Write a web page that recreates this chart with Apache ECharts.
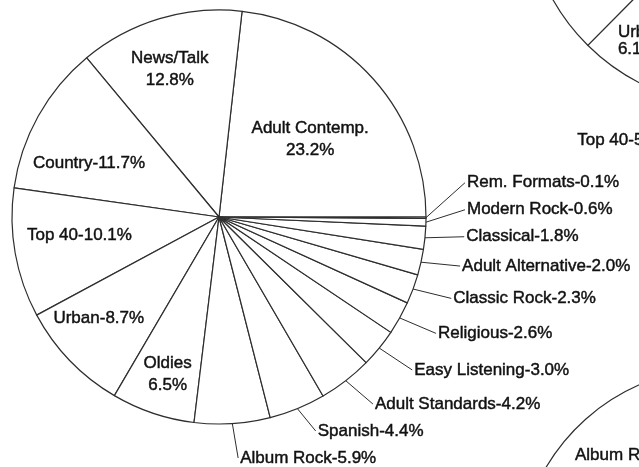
<!DOCTYPE html>
<html>
<head>
<meta charset="utf-8">
<script src="https://cdn.jsdelivr.net/npm/echarts@6/dist/echarts.min.js"></script>
<style>
  html, body { margin: 0; padding: 0; background: #ffffff; }
  #chart { width: 639px; height: 467px; }
</style>
</head>
<body>
<div id="chart"></div>
<script>
// Station format shares (percent of stations), largest first, counter-clockwise from 3 o'clock
const formats = ['Adult Contemp.', 'News/Talk', 'Country', 'Top 40', 'Urban', 'Oldies',
  'Album Rock', 'Spanish', 'Adult Standards', 'Easy Listening', 'Religious',
  'Classic Rock', 'Adult Alternative', 'Classical', 'Modern Rock', 'Rem. Formats'];
const shares = [23.2, 12.8, 11.7, 10.1, 8.7, 6.5, 5.9, 4.4, 4.2, 3.0, 2.6, 2.3, 2.0, 1.8, 0.6, 0.1];

// Neighbouring pies, only partly on the page
const upperFormats = ['Urban', 'Top 40', 'Other formats'];
const upperShares = [6.1, 5.7, 88.2];
const lowerFormats = ['Album Rock', 'Other formats'];
const lowerShares = [11.5, 88.5];

// Names written on two lines inside their slice
const twoLine = ['Adult Contemp.', 'News/Talk', 'Oldies'];

// ---- layout ----
const FONT = '"Liberation Sans", Arial, Helvetica, sans-serif';
const INK = '#111111';
const RULE = '#2e2e2e';

const MAIN_C = [219, 217], MAIN_R = 207;
const UP_C = [735, -103], UP_R = 209;
const LOW_C = [720, 570], LOW_R = 202;

// inside labels: [fraction of radius, angle shift in degrees]
const insideSpot = {
  'Adult Contemp.': [0.58, -1.2],
  'News/Talk': [0.75, 1.8],
  'Country': [0.68, 6.6],
  'Top 40': [0.68, -2.6],
  'Urban': [0.76, -3.8],
  'Oldies': [0.80, 0.6]
};

function sliceAngles(values, start) {
  const total = values.reduce((a, b) => a + b, 0);
  let a = start;
  return values.map(v => {
    const s = a, e = a + v / total * 360;
    a = e;
    return { start: s, end: e, mid: (s + e) / 2 };
  });
}
function polar(c, r, deg) {
  const t = deg * Math.PI / 180;
  return [c[0] + r * Math.cos(t), c[1] - r * Math.sin(t)];
}

const mainAngles = sliceAngles(shares, 0);
const upperAngles = sliceAngles(upperShares, 225.2);
const lowerAngles = sliceAngles(lowerShares, 111);

// outside labels: placed beyond the rim, then stacked upward from the page floor
const outsidePos = {};
const outsideIdx = formats.map((f, i) => i).filter(i => !insideSpot[formats[i]]);
outsideIdx.forEach(i => { outsidePos[i] = polar(MAIN_C, MAIN_R + 41, mainAngles[i].mid + 1.2); });
(function stack() {
  const order = outsideIdx.slice().sort((a, b) => outsidePos[b][1] - outsidePos[a][1]);
  let limit = 458;
  order.forEach(i => {
    outsidePos[i][1] = Math.min(outsidePos[i][1], limit);
    limit = outsidePos[i][1] - 27;
  });
})();

function mainText(i) {
  const name = formats[i], v = shares[i].toFixed(1) + '%';
  return twoLine.indexOf(name) >= 0 ? name + '\n' + v : name + '-' + v;
}

const labelBase = {
  color: INK, fontFamily: FONT, fontSize: 17, lineHeight: 22,
  textBorderColor: INK, textBorderWidth: 0.45
};
const sliceStyle = { color: '#ffffff', borderColor: RULE, borderWidth: 1.2 };

const mainData = formats.map((name, i) => {
  const inside = !!insideSpot[name];
  return {
    name, value: shares[i],
    label: { show: true, position: inside ? 'inside' : 'outside', formatter: mainText(i) },
    labelLine: { show: !inside, lineStyle: { color: RULE, width: 1 } }
  };
});

const upperData = upperFormats.map((name, i) => ({
  name, value: upperShares[i],
  label: {
    show: name !== 'Other formats', position: 'inside',
    formatter: name === 'Urban' ? name + '\n' + upperShares[i].toFixed(1) + '%'
                                : name + '-' + upperShares[i].toFixed(1) + '%'
  },
  labelLine: { show: false }
}));
const upperSpot = { 'Urban': [0.888, -5.3], 'Top 40': [1.387, -20.4] };

const lowerData = lowerFormats.map((name, i) => ({
  name, value: lowerShares[i],
  label: { show: name !== 'Other formats', position: 'inside',
           formatter: name + '-' + lowerShares[i].toFixed(1) + '%' },
  labelLine: { show: false }
}));
const lowerSpot = { 'Album Rock': [0.916, 9.9] };

const chart = echarts.init(document.getElementById('chart'), null, { renderer: 'canvas' });

const pieBase = {
  type: 'pie',
  startAngle: 0,
  clockwise: false,
  avoidLabelOverlap: false,
  animation: false,
  silent: true,
  emphasis: { disabled: true },
  itemStyle: sliceStyle,
  label: labelBase
};

chart.setOption({
  backgroundColor: '#ffffff',
  animation: false,
  series: [
    Object.assign({}, pieBase, {
      center: MAIN_C, radius: MAIN_R,
      data: mainData,
      labelLayout: function (p) {
        const i = p.dataIndex, ang = mainAngles[i], spot = insideSpot[formats[i]];
        if (spot) {
          const q = polar(MAIN_C, MAIN_R * spot[0], ang.mid + spot[1]);
          return { x: q[0], y: q[1], align: 'center', verticalAlign: 'middle' };
        }
        const q = outsidePos[i];
        const rim = polar(MAIN_C, MAIN_R, ang.mid);
        const end = [q[0] - 2, q[1]];
        return { x: q[0], y: q[1], align: 'left', verticalAlign: 'middle',
                 labelLinePoints: [rim, end, end] };
      }
    }),
    Object.assign({}, pieBase, {
      center: UP_C, radius: UP_R, startAngle: 225.2,
      data: upperData,
      label: Object.assign({}, labelBase, { lineHeight: 17 }),
      labelLayout: function (p) {
        const spot = upperSpot[upperFormats[p.dataIndex]];
        if (!spot) return {};
        const q = polar(UP_C, UP_R * spot[0], upperAngles[p.dataIndex].mid + spot[1]);
        return { x: q[0], y: q[1], align: 'left', verticalAlign: 'middle' };
      }
    }),
    Object.assign({}, pieBase, {
      center: LOW_C, radius: LOW_R, startAngle: 111,
      data: lowerData,
      labelLayout: function (p) {
        const spot = lowerSpot[lowerFormats[p.dataIndex]];
        if (!spot) return {};
        const q = polar(LOW_C, LOW_R * spot[0], lowerAngles[p.dataIndex].mid + spot[1]);
        return { x: q[0], y: q[1], align: 'left', verticalAlign: 'middle' };
      }
    })
  ]
});
</script>
</body>
</html>
